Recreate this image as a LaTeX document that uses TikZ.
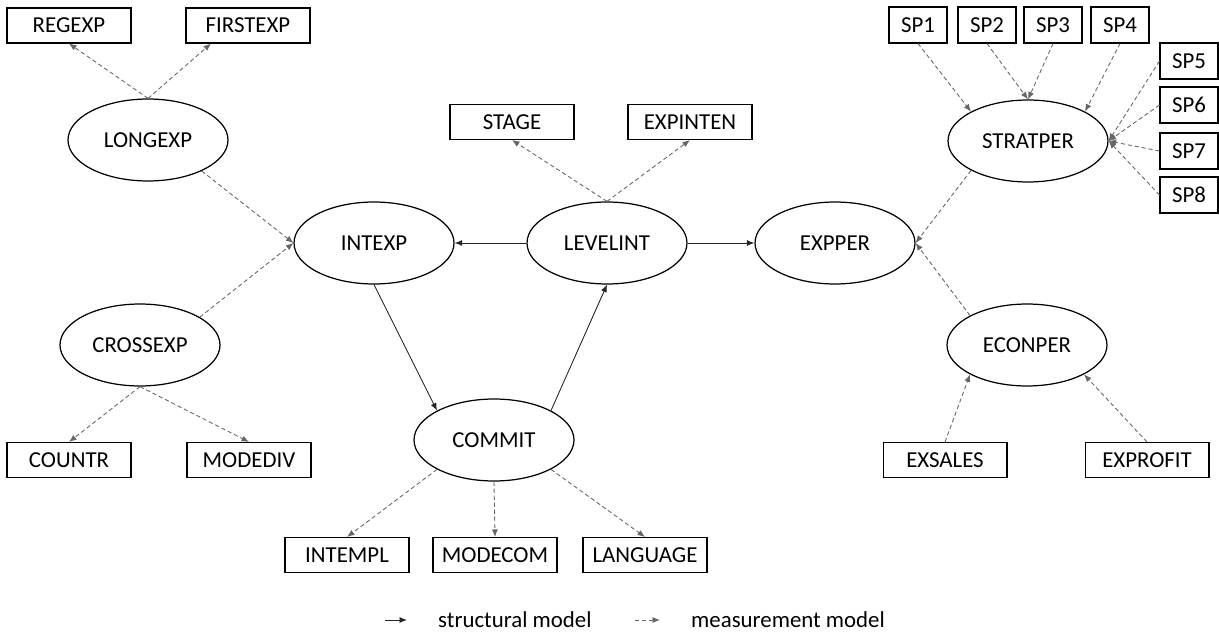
\documentclass[tikz,border=0pt]{standalone}
\usepackage{fontspec}
\setmainfont{Carlito}
\usetikzlibrary{shapes.geometric,arrows.meta}
\begin{document}
\begin{tikzpicture}[x=0.02cm,y=-0.02cm,
    font=\fontsize{13}{15}\selectfont,
    latent/.style={draw,ellipse,line width=0.7pt,minimum width=3.2cm,minimum height=1.64cm,inner sep=0pt},
    manifest/.style={draw,rectangle,line width=0.6pt,minimum width=2.48cm,minimum height=0.7cm,inner sep=0pt},
    spbox/.style={manifest,minimum width=1.16cm,minimum height=0.72cm},
    structural/.style={-{Latex[length=1.5mm,width=1.2mm]},line width=0.5pt,black!85},
    measure/.style={-{Latex[length=1.5mm,width=1.2mm]},line width=0.5pt,black!60,dash pattern=on 2.4pt off 1.6pt}]
    \useasboundingbox (0,0) rectangle (1219,638);
    \node[manifest] (regexp) at (69,25.5) {REGEXP};
    \node[manifest] (firstexp) at (248,25.5) {FIRSTEXP};
    \node[latent] (longexp) at (148,140) {LONGEXP};
    \node[latent] (crossexp) at (140,345) {CROSSEXP};
    \node[manifest] (countr) at (69,460) {COUNTR};
    \node[manifest] (modediv) at (249,460) {MODEDIV};
    \node[latent] (intexp) at (374,243) {INTEXP};
    \node[latent] (levelint) at (607,243) {LEVELINT};
    \node[latent] (expper) at (835,243) {EXPPER};
    \node[manifest] (stage) at (512,122) {STAGE};
    \node[manifest] (expinten) at (690,122) {EXPINTEN};
    \node[latent] (commit) at (494,440) {COMMIT};
    \node[manifest] (intempl) at (347,555) {INTEMPL};
    \node[manifest] (modecom) at (495,555) {MODECOM};
    \node[manifest] (language) at (645,555) {LANGUAGE};
    \node[latent] (stratper) at (1028,141) {STRATPER};
    \node[spbox] (sp1) at (918,25) {SP1};
    \node[spbox] (sp2) at (987,25) {SP2};
    \node[spbox] (sp3) at (1053,25) {SP3};
    \node[spbox] (sp4) at (1120,25) {SP4};
    \node[spbox] (sp5) at (1189,61) {SP5};
    \node[spbox] (sp6) at (1189,105) {SP6};
    \node[spbox] (sp7) at (1189,151) {SP7};
    \node[spbox] (sp8) at (1189,195) {SP8};
    \node[latent] (econper) at (1027,345) {ECONPER};
    \node[manifest] (exsales) at (945,460) {EXSALES};
    \node[manifest] (exprofit) at (1147,460) {EXPROFIT};

    \draw[measure] (longexp.north) -- (regexp.south);
    \draw[measure] (longexp.north) -- (firstexp.206);
    \draw[measure] (longexp.-30) -- (intexp.west);
    \draw[measure] (crossexp.25) -- (intexp.west);
    \draw[measure] (crossexp.south) -- (countr.north);
    \draw[measure] (crossexp.south) -- (modediv.north);
    \draw[measure] (levelint.north) -- (stage.south);
    \draw[measure] (levelint.north) -- (expinten.south);
    \draw[structural] (levelint.west) -- (intexp.east);
    \draw[structural] (levelint.east) -- (expper.west);
    \draw[structural] (intexp.south) -- (commit.north west);
    \draw[structural] (commit.north east) -- (levelint.south);
    \draw[measure] (commit.south west) -- (intempl.north);
    \draw[measure] (commit.south) -- (modecom.north);
    \draw[measure] (commit.south east) -- (language.north);
    \draw[measure] (sp1.south) -- (stratper.north west);
    \draw[measure] (sp2.south) -- (stratper.north);
    \draw[measure] (sp3.south) -- (stratper.north);
    \draw[measure] (sp4.south) -- (stratper.north east);
    \foreach \sp in {sp5,sp6,sp7,sp8}
        \draw[measure] (\sp.west) -- (stratper.east);
    \draw[measure] (stratper.south west) -- (expper.east);
    \draw[measure] (econper.north west) -- (expper.east);
    \draw[measure] (exsales.north) -- (econper.south west);
    \draw[measure] (exprofit.north) -- (econper.south east);

    \coordinate (sfrom) at (385,620);
    \coordinate (sto) at (407,620);
    \draw[structural] (sfrom) -- (sto);
    \node[anchor=west] (slabel) at (432,620) {structural model};
    \coordinate (mfrom) at (635,620);
    \coordinate (mto) at (660,620);
    \draw[measure] (mfrom) -- (mto);
    \node[anchor=west] (mlabel) at (685,620) {measurement model};
\end{tikzpicture}
\end{document}
